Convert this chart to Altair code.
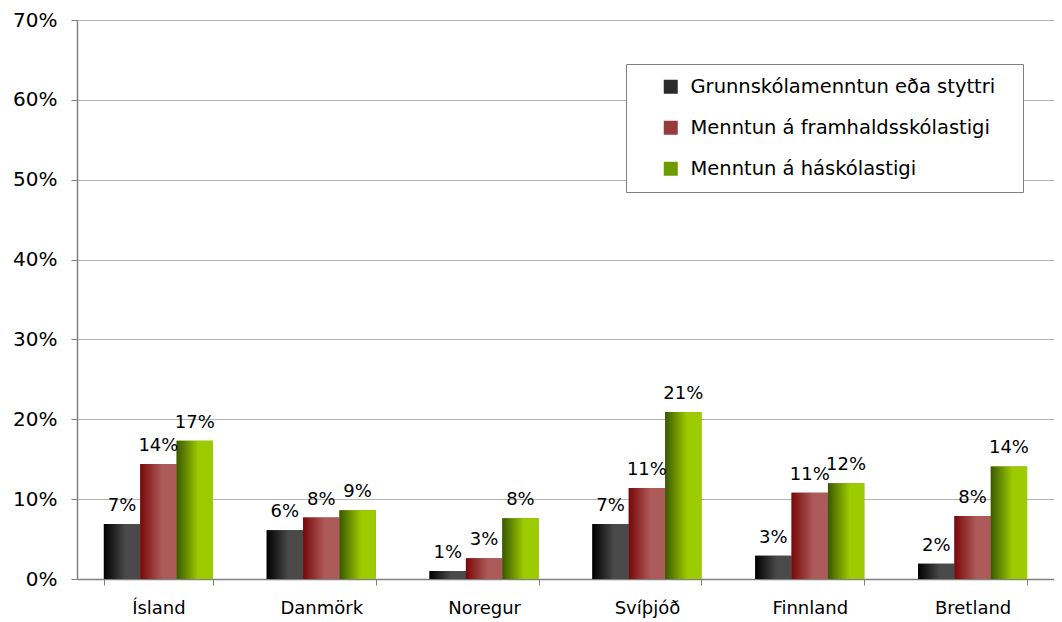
import altair as alt
import pandas as pd

countries = ["Ísland", "Danmörk", "Noregur", "Svíþjóð", "Finnland", "Bretland"]
series = ["Grunnskólamenntun eða styttri", "Menntun á framhaldsskólastigi", "Menntun á háskólastigi"]
grunn = [6.9, 6.1, 1.0, 6.9, 2.9, 1.9]
framh = [14.4, 7.7, 2.6, 11.4, 10.8, 7.9]
hask = [17.3, 8.6, 7.6, 20.9, 12.0, 14.1]
y_ticks = [0, 0.1, 0.2, 0.3, 0.4, 0.5, 0.6, 0.7]

rows = []
for s, vals in zip(series, [grunn, framh, hask]):
    for c, v in zip(countries, vals):
        rows.append({"country": c, "series": s, "value": v / 100})
df = pd.DataFrame(rows)

FONT = "DejaVu Sans"
grads = [
    ("#000000", "#4a4a4a"),
    ("#780808", "#ad5a5a"),
    ("#3a5800", "#9ccc00"),
]
legend_cols = ["#2a2a2a", "#963a3a", "#6e9a00"]

base = alt.Chart(df).encode(
    x=alt.X(
        "country:N",
        sort=countries,
        title=None,
        scale=alt.Scale(paddingInner=0.33, paddingOuter=0.165),
        axis=alt.Axis(
            labelAngle=0, labelFont=FONT, labelFontSize=18, labelColor="#000",
            labelPadding=14, tickBand="extent", ticks=True, tickSize=6,
            tickColor="#808080", domainColor="#808080", domainWidth=1.5,
        ),
    ),
    xOffset=alt.XOffset("series:N", sort=series, scale=alt.Scale(domain=series, paddingInner=0, paddingOuter=0)),
    y=alt.Y(
        "value:Q",
        title=None,
        scale=alt.Scale(domain=[0, 0.7], nice=False),
        axis=alt.Axis(
            values=y_ticks, format=".0%", labelFont=FONT, labelFontSize=20,
            labelColor="#000", labelPadding=14, tickSize=6, tickColor="#808080",
            domainColor="#808080", domainWidth=1.5, gridColor="#b4b4b4", gridWidth=1,
        ),
    ),
)

legend_layer = base.mark_bar().encode(
    color=alt.Color(
        "series:N",
        sort=series,
        scale=alt.Scale(domain=series, range=legend_cols),
        legend=alt.Legend(
            title=None, orient="none", legendX=549, legendY=44,
            labelFont=FONT, labelFontSize=19.5, labelColor="#000",
            symbolType="square", symbolSize=196, symbolStrokeWidth=0,
            rowPadding=20, padding=13, symbolOffset=22, labelOffset=10,
            strokeColor="#808080", fillColor="#ffffff", labelLimit=500,
            labelExpr="datum.label + '\u2800'",
        ),
    )
)

layers = [legend_layer]
for s, (c0, c1) in zip(series, grads):
    layers.append(
        base.transform_filter(alt.datum.series == s).mark_bar(
            color=alt.Gradient(
                gradient="linear",
                stops=[alt.GradientStop(color=c0, offset=0), alt.GradientStop(color=c1, offset=0.6), alt.GradientStop(color=c1, offset=1)],
                x1=0, x2=1, y1=0, y2=0,
            )
        )
    )

labels = base.mark_text(baseline="bottom", dy=-9, font=FONT, fontSize=18, color="#000").encode(
    text=alt.Text("value:Q", format=".0%")
)
layers.append(labels)

chart = alt.layer(*layers).properties(
    width=977, height=559,
    padding={"left": 4, "top": 2, "right": 0, "bottom": 6},
).configure_view(stroke=None).configure_axis(grid=True).configure_axisX(grid=False)

chart.save("out.html", embed_options={"renderer": "svg", "actions": False})
